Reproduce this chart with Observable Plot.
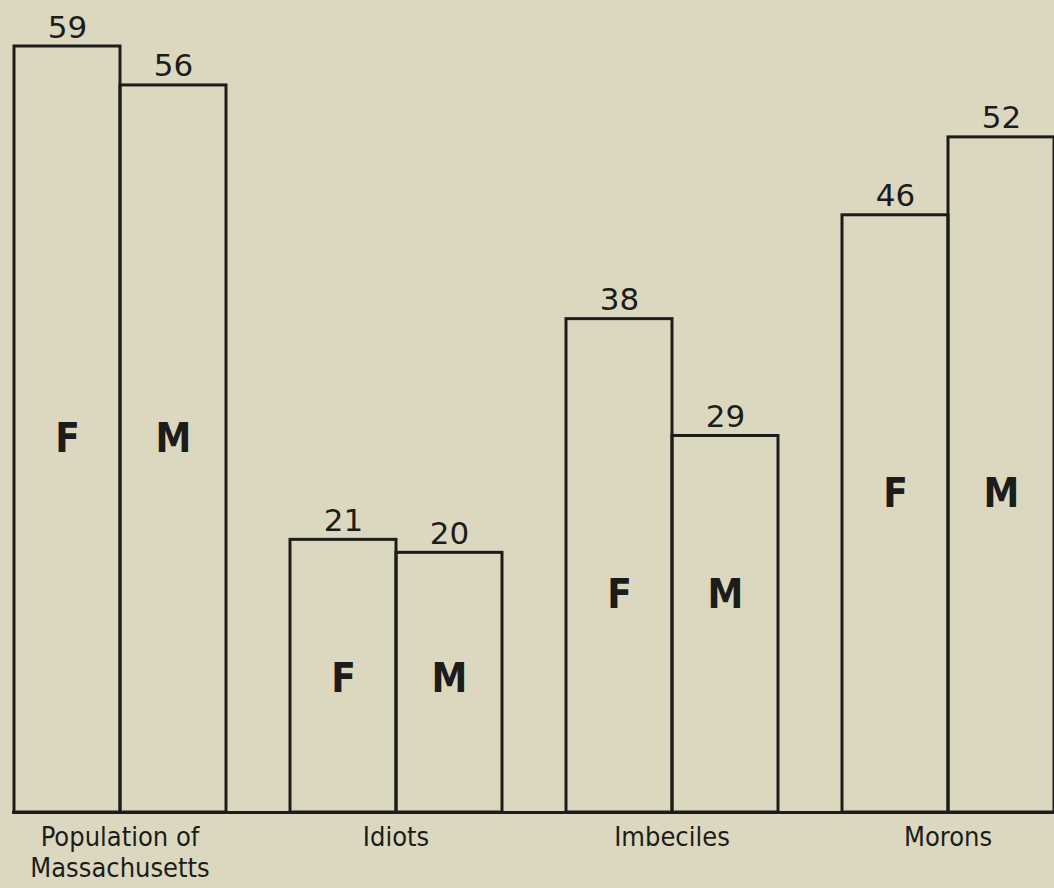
<!DOCTYPE html>
<html><head><meta charset="utf-8">
<script src="https://cdn.jsdelivr.net/npm/d3@7"></script>
<script src="https://cdn.jsdelivr.net/npm/@observablehq/plot@0.6"></script>
<style>
html,body{margin:0;padding:0;background:#dcd8c0;overflow:hidden;}
#chart svg{display:block;}
</style></head><body><div id="chart"></div>
<script>
const categories = ["Population of\nMassachusetts", "Idiots", "Imbeciles", "Morons"];
const sexes = ["F", "M"];
const female = [59, 21, 38, 46];
const male = [56, 20, 29, 52];

const data = categories.flatMap((c, i) => [
  {category: c, sex: "F", value: female[i], mid: (female[i] + male[i]) / 4},
  {category: c, sex: "M", value: male[i], mid: (female[i] + male[i]) / 4}
]);

const ink = "#1c1c1a";
const narrow = "'DejaVu Sans Condensed', 'Liberation Sans Narrow', sans-serif";

const chart = Plot.plot({
  width: 1054,
  height: 888,
  marginTop: 46,
  marginBottom: 76,
  marginLeft: 13,
  marginRight: 0,
  style: {background: "transparent", color: ink, fontFamily: "'DejaVu Sans', sans-serif"},
  fx: {domain: categories, padding: 0.23, label: null},
  x: {domain: sexes, padding: 0, axis: null},
  y: {domain: [0, 59], axis: null},
  marks: [
    Plot.axisFx({anchor: "bottom", tickSize: 0, tickPadding: 11, fontSize: 27, lineHeight: 1.15, fontFamily: narrow, fill: ink, label: null}),
    Plot.barY(data, {fx: "category", x: "sex", y: "value", fill: "none", stroke: ink, strokeWidth: 3}),
    Plot.text(data, {fx: "category", x: "sex", y: "value", text: d => String(d.value), lineAnchor: "bottom", dy: -9, fontSize: 31, fill: ink, fontFamily: "'DejaVu Sans', sans-serif"}),
    Plot.text(data, {fx: "category", x: "sex", y: "mid", text: "sex", fontSize: 40, fontWeight: "bold", fontFamily: narrow, fill: ink}),
    Plot.frame({facet: "super", anchor: "bottom", stroke: ink, strokeWidth: 3})
  ]
});
document.getElementById("chart").append(chart);
</script>
</body></html>
